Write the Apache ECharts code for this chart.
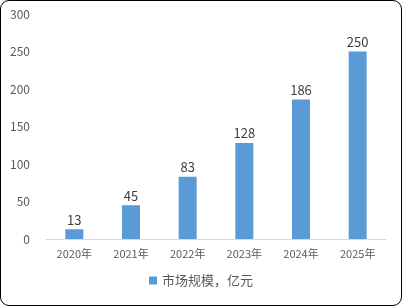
<!DOCTYPE html>
<html><head><meta charset="utf-8">
<script src="https://cdn.jsdelivr.net/npm/echarts@6/dist/echarts.min.js"></script>
<style>
html,body{margin:0;padding:0;background:#fff;}
#wrap{position:absolute;left:0;top:0;width:400px;height:304px;border:1px solid #000;border-radius:9px;box-sizing:content-box;overflow:hidden;background:#fff;}
#c{width:402px;height:306px;position:absolute;left:-1px;top:-1px;}
</style></head>
<body><div id="wrap"><div id="c"></div></div>
<script>
const categories = ['2020年','2021年','2022年','2023年','2024年','2025年'];
const marketSize = [13,45,83,128,186,250];
const yTicks = [0,50,100,150,200,250,300];
const seriesName = '市场规模，亿元';

const chart = echarts.init(document.getElementById('c'));
const font = "'Noto Sans CJK SC','Microsoft YaHei',sans-serif";
chart.setOption({
  animation:false,
  grid:{left:46,right:16,top:14,bottom:67},
  legend:{bottom:14,left:'center',itemWidth:8,itemHeight:8,itemGap:6,icon:'rect',
    textStyle:{color:'#595959',fontSize:13,fontFamily:font},data:[seriesName]},
  xAxis:{type:'category',data:categories,
    axisLine:{lineStyle:{color:'#d9d9d9',width:1}},axisTick:{show:false},
    axisLabel:{color:'#595959',fontSize:11,fontFamily:font,margin:9}},
  yAxis:{type:'value',min:yTicks[0],max:yTicks[yTicks.length-1],interval:50,
    splitLine:{show:false},axisLine:{show:false},axisTick:{show:false},
    axisLabel:{color:'#595959',fontSize:12,fontFamily:font,margin:16}},
  series:[{name:seriesName,type:'bar',data:marketSize,barWidth:18,
    itemStyle:{color:'#5B9BD5'},
    label:{show:true,position:'top',color:'#404040',fontSize:13,fontFamily:font,distance:3}}]
});
</script></body></html>
